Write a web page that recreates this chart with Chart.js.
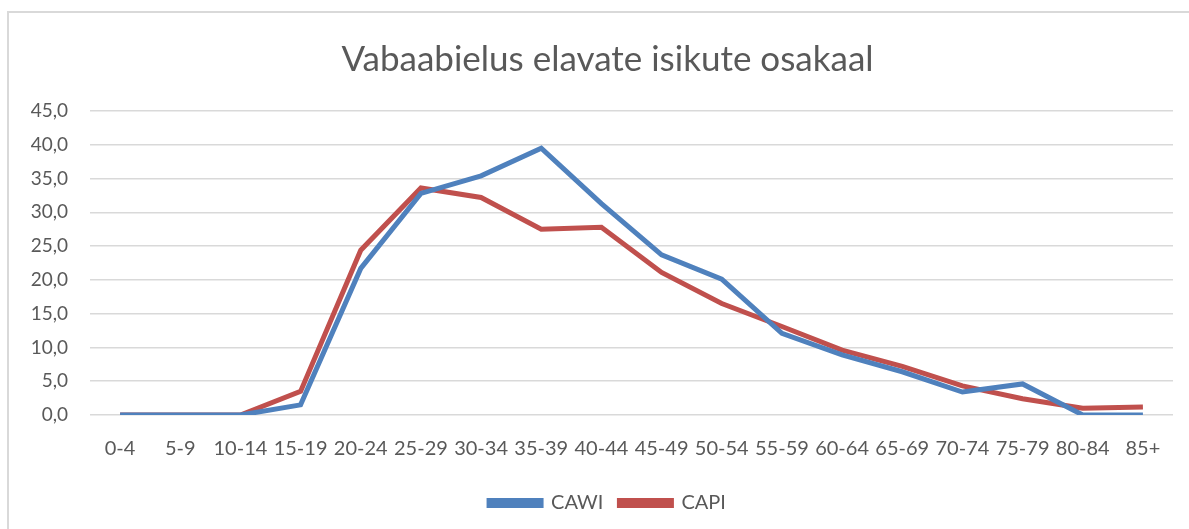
<!DOCTYPE html>
<html>
<head>
<meta charset="utf-8">
<style>
  html, body { margin: 0; padding: 0; background: #fff; }
  #wrap { position: relative; width: 1189px; height: 529px; overflow: hidden; }
  #frame { position: absolute; left: 7px; top: 11px; width: 1200px; height: 540px;
           border: 2px solid #d9d9d9; box-sizing: border-box; }
  canvas { position: absolute; left: 0; top: 0; }
</style>
<script src="https://cdn.jsdelivr.net/npm/chart.js@4/dist/chart.umd.min.js"></script>
</head>
<body>
<div id="wrap">
  <div id="frame"></div>
  <canvas id="c" width="1189" height="529"></canvas>
</div>
<script>
// Age groups and shares (%) of people living in cohabitation
const ageGroups = ['0-4','5-9','10-14','15-19','20-24','25-29','30-34','35-39','40-44',
                   '45-49','50-54','55-59','60-64','65-69','70-74','75-79','80-84','85+'];
const cawi = [0, 0, 0, 1.5, 21.7, 32.8, 35.4, 39.5, 31.3, 23.7, 20.1, 12.1, 8.9, 6.4, 3.4, 4.6, 0, 0];
const capi = [0, 0, 0, 3.5, 24.4, 33.6, 32.2, 27.5, 27.8, 21.1, 16.5, 13.1, 9.6, 7.2, 4.3, 2.4, 1.0, 1.2];
const yTicks = [0, 5, 10, 15, 20, 25, 30, 35, 40, 45];

const FONT = 'Lato, "Open Sans", sans-serif';
const TEXT = '#595959';

// The outer frame continues past the right edge, so title and legend are
// centred on the full frame rather than on the visible canvas.
const SHIFT_X = 16;
const centreShift = {
  id: 'centreShift',
  afterLayout(chart) {
    if (chart.titleBlock) {
      chart.titleBlock.left += SHIFT_X;
      chart.titleBlock.right += SHIFT_X;
    }
    if (chart.legend) {
      chart.legend.left += SHIFT_X;
      chart.legend.right += SHIFT_X;
      chart.legend.top += 2;
      chart.legend.bottom += 2;
    }
  }
};

new Chart(document.getElementById('c'), {
  type: 'line',
  data: {
    labels: ageGroups,
    datasets: [
      { label: 'CAWI', data: cawi, borderColor: '#4F81BD', backgroundColor: '#4F81BD',
        borderWidth: 5, pointRadius: 0, tension: 0 },
      { label: 'CAPI', data: capi, borderColor: '#C0504D', backgroundColor: '#C0504D',
        borderWidth: 5, pointRadius: 0, tension: 0 }
    ]
  },
  plugins: [centreShift],
  options: {
    responsive: false,
    animation: false,
    layout: { padding: { left: 10, right: 16, top: 0, bottom: 8 } },
    plugins: {
      title: {
        display: true,
        text: 'Vabaabielus elavate isikute osakaal',
        color: TEXT,
        font: { family: FONT, size: 35, weight: 'normal' },
        padding: { top: 39, bottom: 30 }
      },
      legend: {
        position: 'bottom',
        labels: {
          color: TEXT,
          font: { family: FONT, size: 20 },
          boxWidth: 52, boxHeight: 5, padding: 16
        }
      },
      tooltip: { enabled: false }
    },
    scales: {
      x: {
        offset: true,
        grid: { display: false },
        border: { display: false },
        ticks: { color: TEXT, font: { family: FONT, size: 20 }, autoSkip: false,
                 maxRotation: 0, minRotation: 0, padding: 14 },
        afterFit: s => { s.height = 60; }
      },
      y: {
        min: 0, max: 45,
        afterBuildTicks: s => { s.ticks = yTicks.map(v => ({ value: v })); },
        grid: { color: '#d9d9d9', lineWidth: 1.5, drawTicks: false },
        border: { display: false },
        ticks: { color: TEXT, font: { family: FONT, size: 19 }, padding: 22,
                 callback: v => v.toFixed(1).replace('.', ',') },
        afterFit: s => { s.width = 80; }
      }
    }
  }
});
</script>
</body>
</html>
